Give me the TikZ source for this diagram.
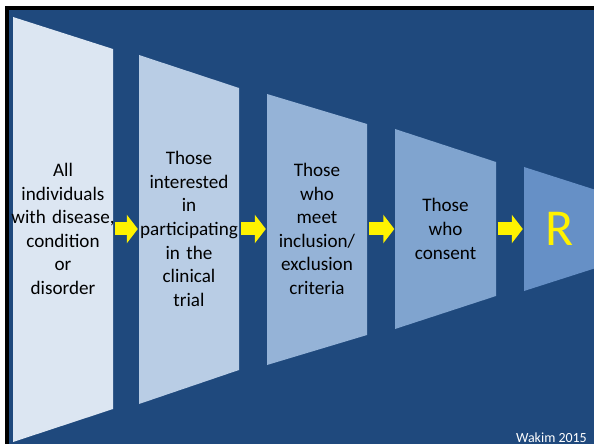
\documentclass[tikz,border=0pt]{standalone}
\usepackage{fontspec}
\setmainfont{Carlito}
\usetikzlibrary{positioning, arrows.meta, backgrounds}

\definecolor{slideblue}{HTML}{1F497D}
\definecolor{stageA}{HTML}{DCE6F2}
\definecolor{stageB}{HTML}{B9CDE5}
\definecolor{stageC}{HTML}{95B3D7}
\definecolor{stageD}{HTML}{80A4CF}
\definecolor{stageE}{HTML}{6690C6}

% arrows sit between the funnel and the text
\pgfdeclarelayer{flow}
\pgfsetlayers{background,flow,main}

\begin{document}
\begin{tikzpicture}[x=1bp, y=-1bp, >={Triangle[length=11bp, width=28bp]},
    stage/.style={text width=100bp, inner sep=0pt, align=center, font=\fontsize{19.2}{23.7}\selectfont},
    push/.style={->, yellow, line width=13bp, shorten <=2bp, shorten >=1bp}]
    \useasboundingbox (0,0) rectangle (594,444);
    \begin{pgfonlayer}{background}
        \fill[white] (0,0) rectangle (594,444);
        \clip (0,0) rectangle (594,444);
        % slide frame and background
        \fill[black] (5,6) rectangle (600,450);
        \fill[slideblue] (9,10) rectangle (600,450);

        % funnel stages, each narrower than the last
        \fill[stageA] (13,17) -- (113,49) -- (113,409) -- (13,442) -- cycle;
        \fill[stageB] (139,55) -- (239,88) -- (239,370) -- (139,404) -- cycle;
        \fill[stageC] (267,94) -- (367,124) -- (367,335) -- (267,365) -- cycle;
        \fill[stageD] (395,129) -- (496,162) -- (496,296) -- (395,329) -- cycle;
        \fill[stageE] (524,167) -- (624,199) -- (624,259) -- (524,291) -- cycle;
    \end{pgfonlayer}

    \node[stage] (s1) at (63,229) {All\\individuals\\\makebox[100bp]{with disease,}\\condition\\or\\disorder};
    \node[stage] (s2) at (189,229) {Those\\interested\\in\\\makebox[100bp]{participating}\\in the\\clinical\\trial};
    \node[stage] (s3) at (317,229) {Those\\who\\meet\\inclusion/\\exclusion\\criteria};
    \node[stage] (s4) at (445.5,229) {Those\\who\\consent};
    \node[minimum width=72bp, inner sep=0pt, text=yellow, font=\fontsize{52}{60}\selectfont] (s5) at (560,229) {R};

    \begin{pgfonlayer}{flow}
        \draw[push] (s1.east) -- (s2.west);
        \draw[push] (s2.east) -- (s3.west);
        \draw[push] (s3.east) -- (s4.west);
        \draw[push] (s4.east) -- (s5.west);
    \end{pgfonlayer}

    \node[anchor=base east, inner sep=0pt, text=white, font=\fontsize{14}{16}\selectfont] (credit) at (587,442) {Wakim 2015};
\end{tikzpicture}
\end{document}
